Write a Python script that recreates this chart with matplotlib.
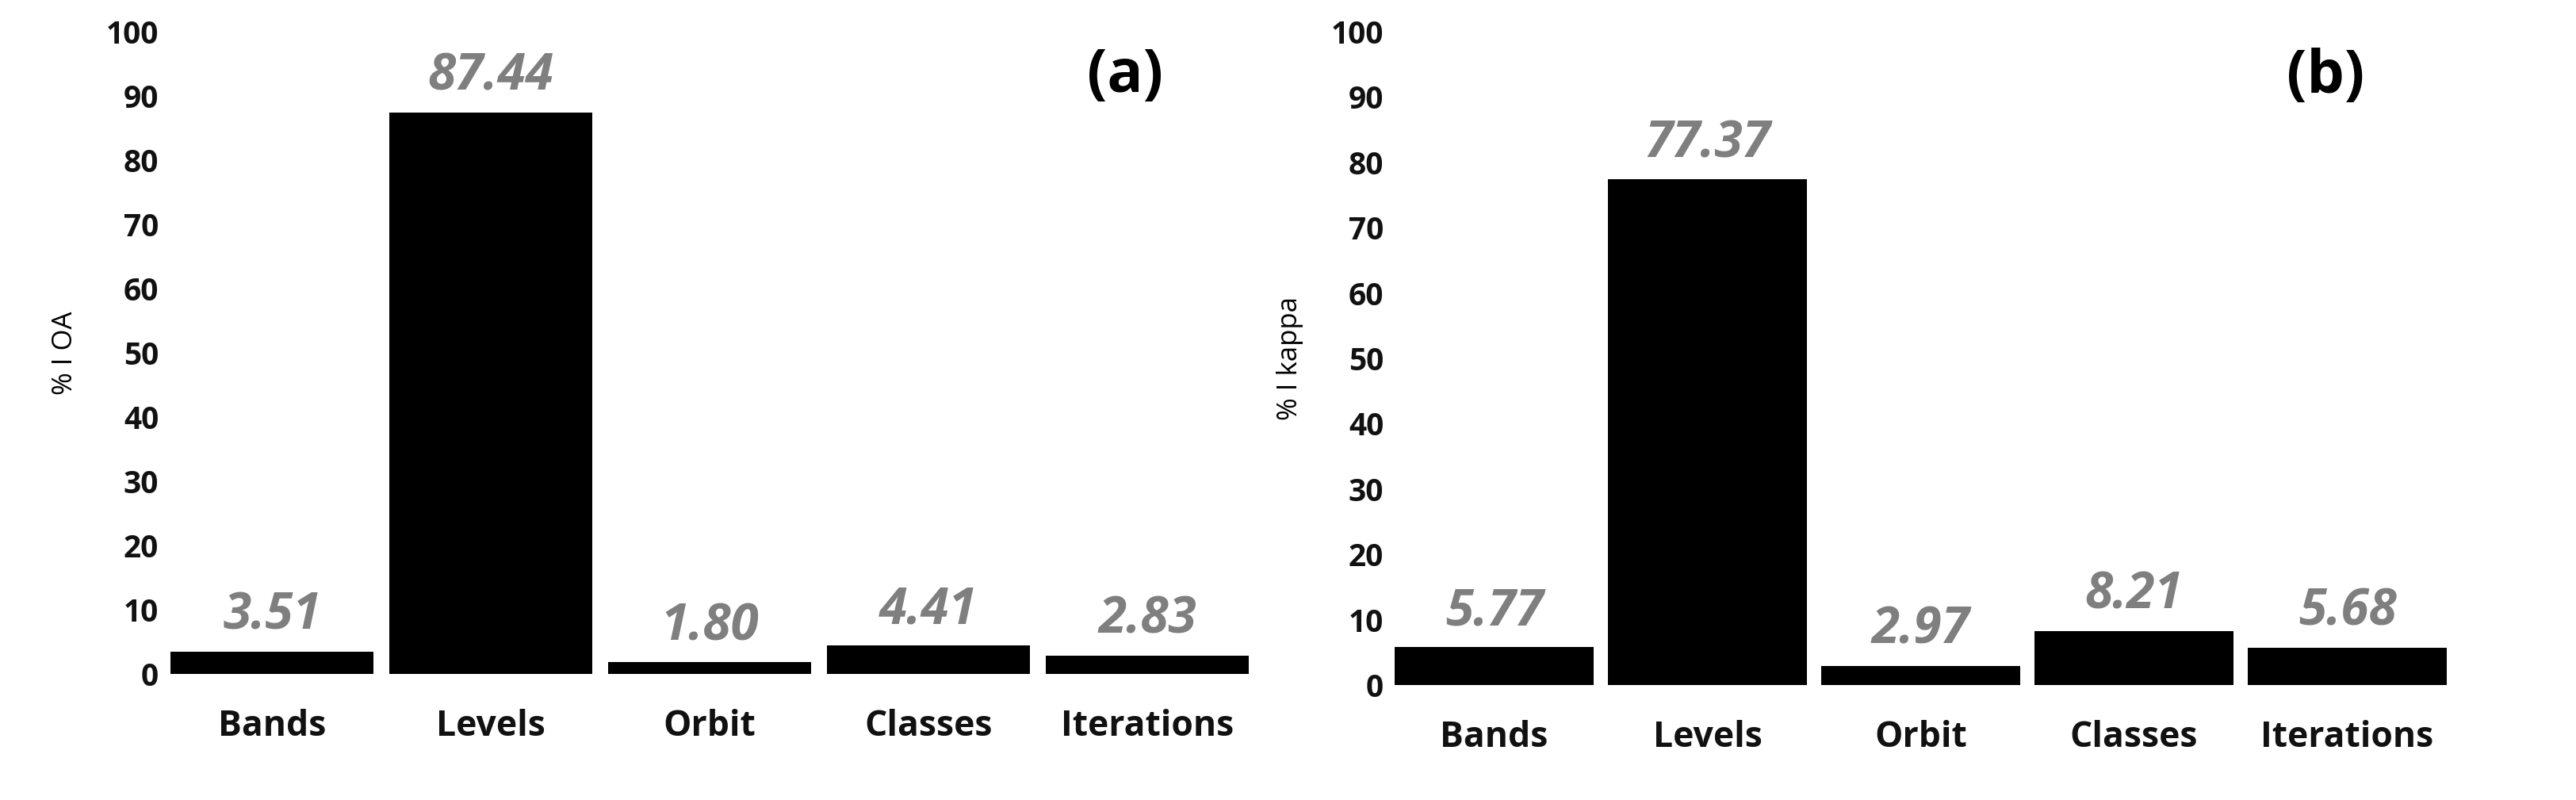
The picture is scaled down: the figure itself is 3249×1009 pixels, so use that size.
import matplotlib.pyplot as plt

plt.rcParams['font.family'] = ['Open Sans', 'DejaVu Sans']

categories = ['Bands', 'Levels', 'Orbit', 'Classes', 'Iterations']
oa_values = [3.51, 87.44, 1.80, 4.41, 2.83]
kappa_values = [5.77, 77.37, 2.97, 8.21, 5.68]
yticks = list(range(0, 101, 10))

fig = plt.figure(figsize=(32.49, 10.09), dpi=100)
ax_a = fig.add_axes([205 / 3249, 1 - 850 / 1009, 1380 / 3249, 810 / 1009])
ax_b = fig.add_axes([1750 / 3249, 1 - 864 / 1009, 1345 / 3249, 824 / 1009])

for ax, vals, ylab, tag in [(ax_a, oa_values, '% I OA', '(a)'),
                            (ax_b, kappa_values, '% I kappa', '(b)')]:
    x = range(len(categories))
    ax.bar(x, vals, width=0.93, color='black')
    for xi, v in zip(x, vals):
        ax.text(xi, v + 1.5, f'{v:.2f}', ha='center', va='bottom',
                fontsize=46, fontweight='bold', fontstyle='italic', color='#7f7f7f')
    ax.set_ylim(0, 100)
    ax.set_xlim(-0.5, len(categories) - 0.5)
    ax.set_yticks(yticks)
    ax.set_xticks(list(x))
    ax.set_xticklabels(categories)
    ax.tick_params(axis='both', length=0, colors='#111111')
    ax.tick_params(axis='y', labelsize=28)
    ax.tick_params(axis='x', labelsize=32, pad=32)
    for lbl in ax.get_xticklabels() + ax.get_yticklabels():
        lbl.set_fontweight('bold')
    for s in ax.spines.values():
        s.set_visible(False)
    ax.set_ylabel(ylab, fontsize=25, labelpad=25)
    ax.text(0.88, 0.93, tag, transform=ax.transAxes, ha='center', va='center',
            fontsize=54, fontweight='bold')

fig.savefig('out.png', dpi=100)
